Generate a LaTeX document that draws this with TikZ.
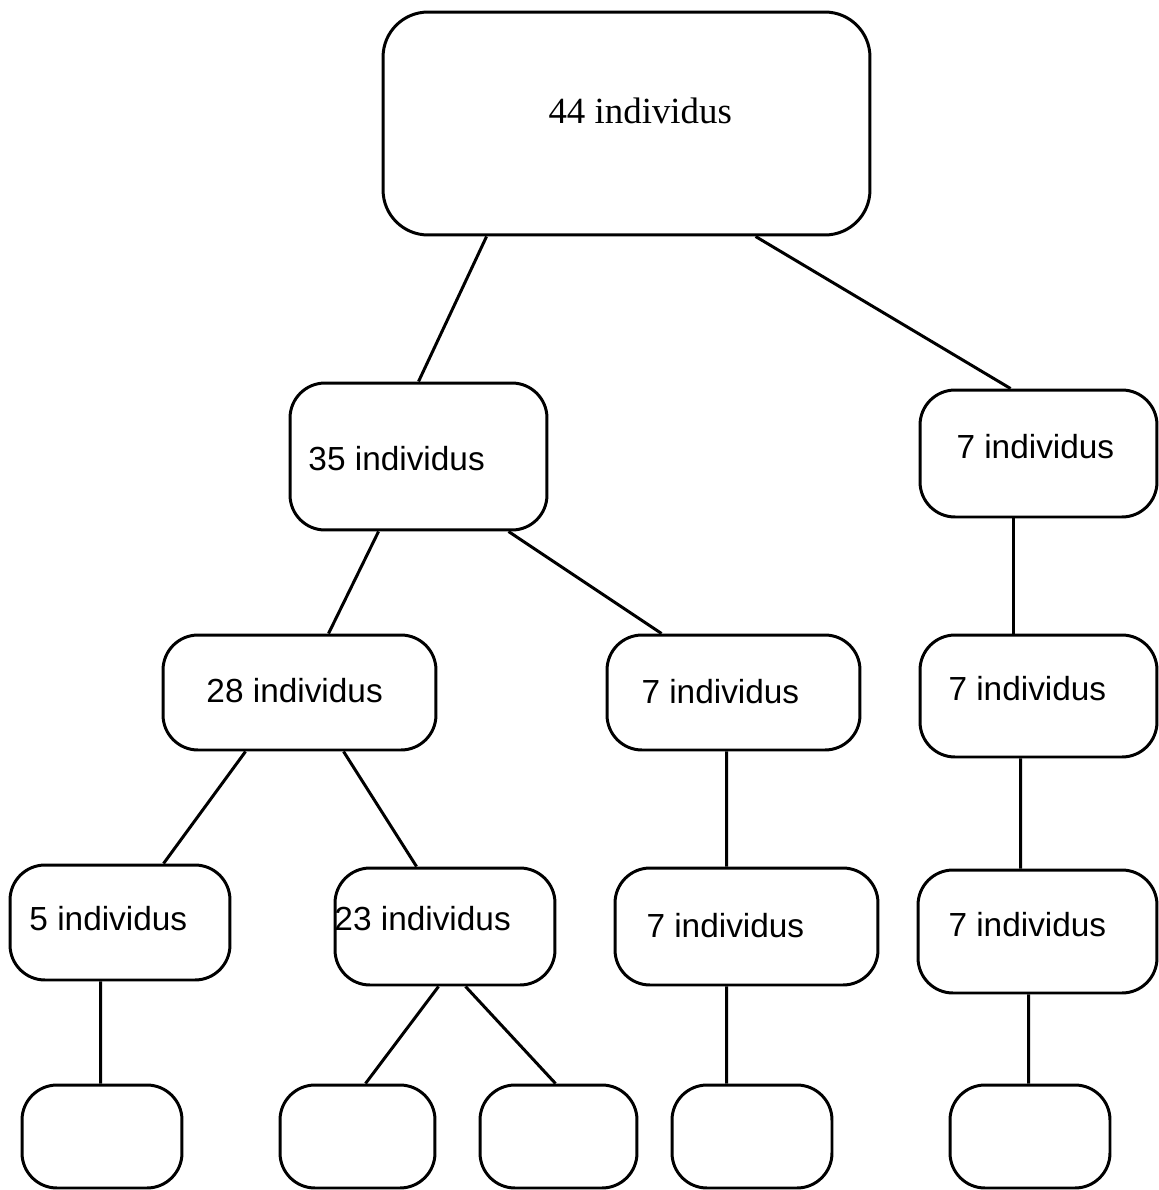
\documentclass[tikz,border=0pt]{standalone}
\usepackage{fontspec}
\setmainfont{Liberation Sans}
\newfontfamily\timesfont{Liberation Serif}
\usepackage{tikz}
\usetikzlibrary{calc}

\begin{document}
\begin{tikzpicture}[x={(0.02cm,0)}, y={(0,-0.02cm)}, line width=1.7pt,
    box/.style={draw, rounded corners=0.7cm, inner sep=0pt},
    lbl/.style={anchor=base west, inner sep=0pt, font=\fontsize{19}{22}\selectfont}]
  \useasboundingbox (0,0) rectangle (1159,1190);
  %
  \node [box, rounded corners=0.9cm, minimum width=9.74cm, minimum height=4.46cm] (root) at (626.5,123.5) {};
  \node [anchor=base west, inner sep=0pt, font=\timesfont\fontsize{21}{24}\selectfont] (troot) at (547,123) {44 individus};
  %
  \node [box, minimum width=5.14cm, minimum height=2.94cm] (b35) at (418.5,456.5) {};
  \node [lbl] (t35) at (307,470) {35 individus};
  \node [box, minimum width=4.74cm, minimum height=2.54cm] (b7a) at (1038.5,453.5) {};
  \node [lbl] (t7a) at (955,458) {7 individus};
  %
  \node [box, minimum width=5.46cm, minimum height=2.30cm] (b28) at (299.5,692.5) {};
  \node [lbl] (t28) at (205,702) {28 individus};
  \node [box, minimum width=5.06cm, minimum height=2.30cm] (b7b) at (733.5,692.5) {};
  \node [lbl] (t7b) at (640,703) {7 individus};
  \node [box, minimum width=4.74cm, minimum height=2.44cm] (b7c) at (1038.5,696) {};
  \node [lbl] (t7c) at (947,700) {7 individus};
  %
  \node [box, minimum width=4.40cm, minimum height=2.30cm] (b5) at (120,922.5) {};
  \node [lbl] (t5) at (28,930) {5 individus};
  \node [box, minimum width=4.40cm, minimum height=2.34cm] (b23) at (445,926.5) {};
  \node [lbl] (t23) at (333,930) {23 individus};
  \node [box, minimum width=5.26cm, minimum height=2.34cm] (b7d) at (746.5,926.5) {};
  \node [lbl] (t7d) at (645,937) {7 individus};
  \node [box, minimum width=4.78cm, minimum height=2.46cm] (b7e) at (1037.5,931.5) {};
  \node [lbl] (t7e) at (947,936) {7 individus};
  %
  \foreach \name/\x/\w in {e1/102/3.20, e2/357.5/3.10, e3/558.5/3.14, e4/752/3.20, e5/1030/3.20} {
    \node [box, minimum width=\w cm, minimum height=2.06cm] (\name) at (\x,1136.5) {};
  }
  %
  \foreach \a/\da/\b/\db in {root/105/b35/130, root/374/b7a/92,
      b35/90/b28/167, b35/220/b7b/56, b7a/95/b7c/95,
      b28/84/b5/155, b28/182/b23/83, b7b/121/b7d/113, b7c/102/b7e/104,
      b5/92/e1/80, b23/105/e2/87, b23/132/e3/77, b7d/113/e4/56, b7e/112/e5/80} {
    \draw ($(\a.south west)+(\da,0)$) -- ($(\b.north west)+(\db,0)$);
  }
\end{tikzpicture}
\end{document}
